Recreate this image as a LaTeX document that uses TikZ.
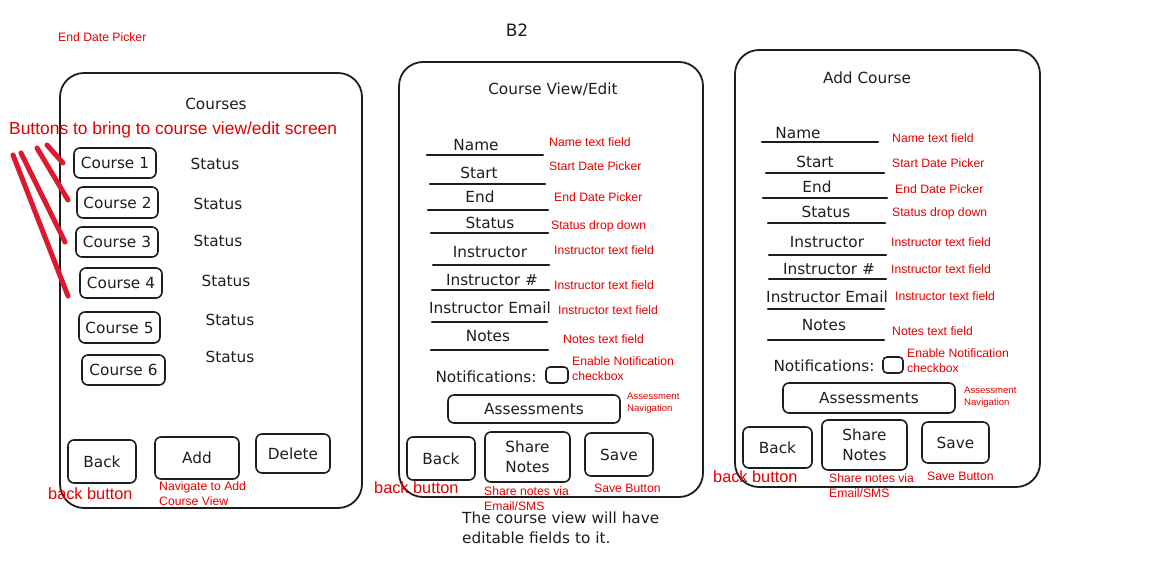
\documentclass[tikz,border=0pt]{standalone}
\usepackage{fontspec}
\setmainfont{DejaVu Sans}
\newfontfamily\redf{Liberation Sans}
\definecolor{lblred}{RGB}{228,0,0}
\definecolor{strokered}{RGB}{222,24,48}
\definecolor{ink}{RGB}{30,30,30}
\begin{document}
\begin{tikzpicture}[x=1pt,y=-1pt,
  frame/.style={draw=ink,line width=1.8pt,rounded corners=24pt},
  btn/.style={draw=ink,line width=1.6pt,rounded corners=6pt,inner sep=0pt,text=ink,font=\fontsize{15.3}{17}\selectfont},
  hand/.style={font=\fontsize{15.3}{17}\selectfont,text=ink,inner sep=0pt},
  uline/.style={line width=2.6pt,draw=ink,line cap=round},
  lbl/.style={font=\redf\fontsize{12.2}{15}\selectfont,text=lblred,anchor=west,inner sep=0pt},
  lblm/.style={font=\redf\fontsize{12.2}{15}\selectfont,text=lblred,anchor=north west,inner sep=0pt,align=left},
  tinylbl/.style={font=\redf\fontsize{9.6}{12}\selectfont,text=lblred,anchor=north west,inner sep=0pt,align=left},
  biglbl/.style={font=\redf\fontsize{16.3}{19}\selectfont,text=lblred,anchor=west,inner sep=0pt},
  redstroke/.style={draw=strokered,line width=5pt,line cap=round}
]
\useasboundingbox[fill=white] (0,0) rectangle (1152,570);

% ---------------- Left panel: Courses ----------------
\node[lbl] (edp) at (58,37) {End Date Picker};
\draw[frame] (60,73) rectangle (362,508);
\node[hand] (t1) at (216,104) {Courses};
\node[font=\redf\fontsize{17.4}{22}\selectfont,text=lblred,anchor=west,inner sep=0pt] (bnote) at (9,130) {Buttons to bring to course view/edit screen};

\node[btn,minimum width=82pt,minimum height=30pt] (c1) at (115,163) {Course 1};
\node[btn,minimum width=81pt,minimum height=31pt] (c2) at (117.5,202.5) {Course 2};
\node[btn,minimum width=82pt,minimum height=30pt] (c3) at (117,242) {Course 3};
\node[btn,minimum width=82pt,minimum height=30pt] (c4) at (121,283) {Course 4};
\node[btn,minimum width=81pt,minimum height=31pt] (c5) at (119.5,327.5) {Course 5};
\node[btn,minimum width=83pt,minimum height=30pt] (c6) at (123.5,370) {Course 6};

\node[hand] (s1) at (215,164) {Status};
\node[hand] (s2) at (218,204) {Status};
\node[hand] (s3) at (218,241) {Status};
\node[hand] (s4) at (226,281) {Status};
\node[hand] (s5) at (230,320) {Status};
\node[hand] (s6) at (230,357) {Status};

% red strokes
\coordinate (a1) at (47,145); \coordinate (e1) at (63,163);
\coordinate (a2) at (37,148); \coordinate (e2) at (68,200);
\coordinate (a3) at (21,153); \coordinate (e3) at (65,242);
\coordinate (a4) at (13,155); \coordinate (e4) at (68,296);
\draw[redstroke] (a1) -- (e1);
\draw[redstroke] (a2) -- (e2);
\draw[redstroke] (a3) -- (e3);
\draw[redstroke] (a4) -- (e4);

\node[btn,minimum width=68pt,minimum height=43pt] (lback) at (102,461.5) {Back};
\node[btn,minimum width=84pt,minimum height=42pt] (ladd) at (197,458) {Add};
\node[btn,minimum width=74pt,minimum height=39pt] (ldel) at (293,453.5) {Delete};
\node[biglbl] (lbb) at (48,494) {back button};
\node[lblm] (lnav) at (159,481) {Navigate to Add\\Course View};

% ---------------- Middle panel: Course View/Edit ----------------
\node[hand,font=\fontsize{17}{19}\selectfont] (b2) at (517,30) {B2};
\draw[frame] (399,62) rectangle (703,497);
\node[hand] (t2) at (553,89) {Course View/Edit};

\foreach \t/\lx/\ly/\xa/\xb/\yl [count=\i] in {
  Name/476/145/427/543/155,
  Start/479/173/430/545/184,
  End/480/197/428/548/210,
  Status/490/223/431/548/233,
  Instructor/490/252/433/549/265,
  Instructor \#/492/280/432/549/290,
  Instructor Email/490/308/432/547/322,
  Notes/488/336/431/548/350}{
  \node[hand] (mf\i) at (\lx,\ly) {\t};
  \coordinate (mla\i) at (\xa,\yl);
  \coordinate (mlb\i) at (\xb,\yl);
  \draw[uline] (mla\i) -- (mlb\i);
}
\foreach \t/\lx/\ly [count=\i] in {
  Name text field/549/142,
  Start Date Picker/549/166,
  End Date Picker/554/197,
  Status drop down/551/226,
  Instructor text field/554/250,
  Instructor text field/554/285,
  Instructor text field/558/310,
  Notes text field/563/339}{
  \node[lbl] (mr\i) at (\lx,\ly) {\t};
}
\node[hand] (mnot) at (486,377) {Notifications:};
\node[btn,rounded corners=4pt,minimum width=22pt,minimum height=16pt] (mchk) at (557,375) {};
\node[lblm] (mchkl) at (572,356) {Enable Notification\\checkbox};
\node[btn,minimum width=172pt,minimum height=28pt] (mass) at (534,409) {Assessments};
\node[tinylbl] (massl) at (627,393) {Assessment\\Navigation};
\node[btn,minimum width=68pt,minimum height=43pt] (mback) at (441,458.5) {Back};
\node[btn,minimum width=85pt,minimum height=50pt,align=center,font=\fontsize{15.3}{20}\selectfont] (mshare) at (527.5,457) {Share\\Notes};
\node[btn,minimum width=68pt,minimum height=43pt] (msave) at (619,454.5) {Save};
\node[biglbl] (mbb) at (374,488) {back button};
\node[lblm] (mshl) at (484,486) {Share notes via\\Email/SMS};
\node[lbl] (msvl) at (594,488) {Save Button};
\node[hand,anchor=north west,align=left,font=\fontsize{15.3}{20}\selectfont] (note) at (462,512) {The course view will have\\editable fields to it.};

% ---------------- Right panel: Add Course ----------------
\draw[frame] (735,50) rectangle (1040,487);
\node[hand] (t3) at (867,78) {Add Course};

\foreach \t/\lx/\ly/\xa/\xb/\yl [count=\i] in {
  Name/798/133/762/878/142,
  Start/815/162/766/884/173,
  End/817/187/763/887/198,
  Status/826/212/768/885/223,
  Instructor/827/242/769/886/255,
  Instructor \#/829/269/769/886/279,
  Instructor Email/827/297/768/884/309,
  Notes/824/325/768/884/340}{
  \node[hand] (rf\i) at (\lx,\ly) {\t};
  \coordinate (rla\i) at (\xa,\yl);
  \coordinate (rlb\i) at (\xb,\yl);
  \draw[uline] (rla\i) -- (rlb\i);
}
\foreach \t/\lx/\ly [count=\i] in {
  Name text field/892/138,
  Start Date Picker/892/163,
  End Date Picker/895/189,
  Status drop down/892/213,
  Instructor text field/891/242,
  Instructor text field/891/269,
  Instructor text field/895/296,
  Notes text field/892/331}{
  \node[lbl] (rr\i) at (\lx,\ly) {\t};
}
\node[hand] (rnot) at (824,366) {Notifications:};
\node[btn,rounded corners=4pt,minimum width=20pt,minimum height=16pt] (rchk) at (893,365) {};
\node[lblm] (rchkl) at (907,348) {Enable Notification\\checkbox};
\node[btn,minimum width=172pt,minimum height=30pt] (rass) at (869,398) {Assessments};
\node[tinylbl] (rassl) at (964,387) {Assessment\\Navigation};
\node[btn,minimum width=69pt,minimum height=41pt] (rback) at (777.5,447.5) {Back};
\node[btn,minimum width=85pt,minimum height=50pt,align=center,font=\fontsize{15.3}{20}\selectfont] (rshare) at (864.5,445) {Share\\Notes};
\node[btn,minimum width=67pt,minimum height=41pt] (rsave) at (955.5,442.5) {Save};
\node[biglbl] (rbb) at (713,477) {back button};
\node[lblm] (rshl) at (829,473) {Share notes via\\Email/SMS};
\node[lbl] (rsvl) at (927,476) {Save Button};
\end{tikzpicture}
\end{document}
